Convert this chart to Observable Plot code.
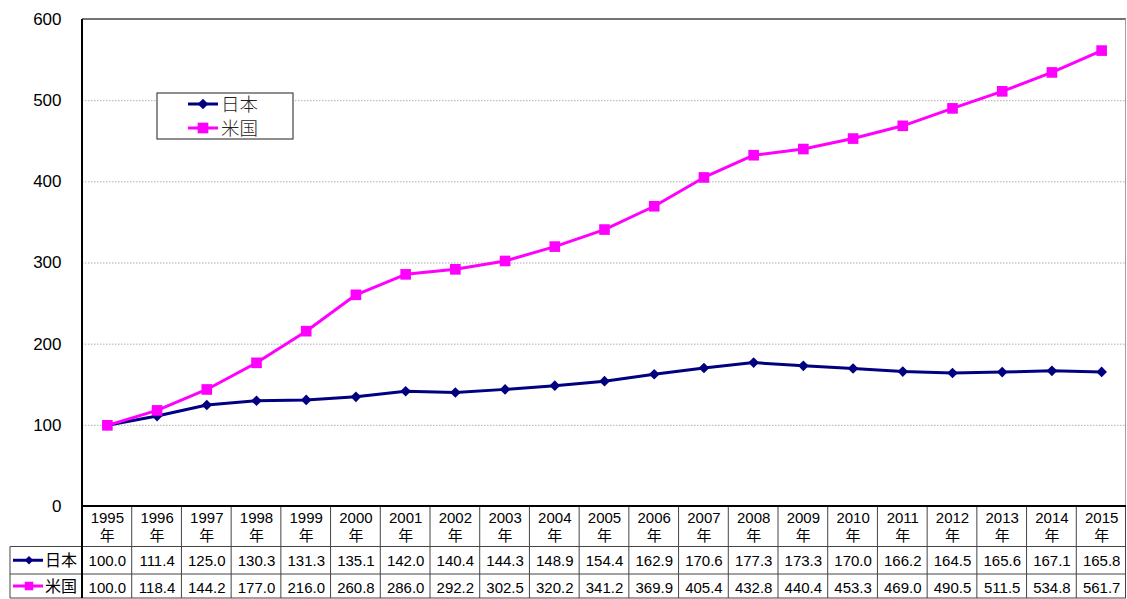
<!DOCTYPE html>
<html><head><meta charset="utf-8">
<script src="https://cdn.jsdelivr.net/npm/d3@7"></script>
<script src="https://cdn.jsdelivr.net/npm/@observablehq/plot@0.6"></script>
<style>html,body{margin:0;padding:0;background:#fff;overflow:hidden}#chart svg{display:block}</style>
</head><body><div id="chart"></div>
<script>
const years = ["1995","1996","1997","1998","1999","2000","2001","2002","2003","2004","2005","2006","2007","2008","2009","2010","2011","2012","2013","2014","2015"];
const seriesNames = ["日本","米国"];
const japan = [100.0,111.4,125.0,130.3,131.3,135.1,142.0,140.4,144.3,148.9,154.4,162.9,170.6,177.3,173.3,170.0,166.2,164.5,165.6,167.1,165.8];
const usa = [100.0,118.4,144.2,177.0,216.0,260.8,286.0,292.2,302.5,320.2,341.2,369.9,405.4,432.8,440.4,453.3,469.0,490.5,511.5,534.8,561.7];
const yTicks = [0,100,200,300,400,500,600];
const gridTicks = [100,200,300,400,500];
const colors = ["#000080","#FF00FF"];
const yearSuffix = "年";

const jpData = japan.map((v,i)=>({year:years[i], value:v, series:seriesNames[0]}));
const usData = usa.map((v,i)=>({year:years[i], value:v, series:seriesNames[1]}));
const data = jpData.concat(usData);

const font = "'Liberation Sans', Arial, 'Noto Sans CJK JP', sans-serif";

const plot = Plot.plot({
  width: 1127, height: 599,
  marginLeft: 82, marginRight: 1, marginTop: 19, marginBottom: 93,
  style: {fontFamily: font, fontSize: "15px", background: "white", color: "#000", overflow: "visible"},
  x: {type: "band", domain: years, padding: 0, round: false, axis: null},
  y: {domain: [0, 600]},
  color: {domain: seriesNames, range: colors},
  marks: [
    Plot.ruleY(gridTicks, {stroke: "#9a9a9a", strokeWidth: 0.8, strokeDasharray: "1.5,1.5"}),
    Plot.axisY({ticks: yTicks, tickSize: 0, tickPadding: 21, fontSize: 17, label: null, fill: "#000"}),
    Plot.line(data, {x: "year", y: "value", stroke: "series", strokeWidth: 3}),
    Plot.dot(jpData, {x: "year", y: "value", symbol: "diamond2", r: 4.8, fill: colors[0], stroke: "none"}),
    Plot.dot(usData, {x: "year", y: "value", symbol: "square", r: 6, fill: colors[1], stroke: "none"}),
    Plot.text(years, {x: d => d, text: d => d, frameAnchor: "bottom", lineAnchor: "middle", dy: 12, fontSize: 15, fill: "#000"}),
    Plot.text(years, {x: d => d, text: () => yearSuffix, frameAnchor: "bottom", lineAnchor: "middle", dy: 29.5, fontSize: 15, fill: "#000"}),
    Plot.text(jpData, {x: "year", text: d => d.value.toFixed(1), frameAnchor: "bottom", lineAnchor: "middle", dy: 55, fontSize: 15, fill: "#000"}),
    Plot.text(usData, {x: "year", text: d => d.value.toFixed(1), frameAnchor: "bottom", lineAnchor: "middle", dy: 81.5, fontSize: 15, fill: "#000"})
  ]
});

const svg = d3.select(plot);
const xs = plot.scale("x");
const ys = plot.scale("y");
const bw = xs.bandwidth;
const x0 = xs.apply(years[0]);
const x1 = xs.apply(years[years.length-1]) + bw;
const yTop = ys.apply(600);
const yBot = ys.apply(0);
const rowA = yBot + 40.5, rowB = yBot + 68, rowC = yBot + 92;
const tableLeft = 10;
const g = svg.append("g").attr("fill", "none");
function line(xa, ya, xb, yb, stroke, w) {
  g.append("line").attr("x1", xa).attr("y1", ya).attr("x2", xb).attr("y2", yb).attr("stroke", stroke).attr("stroke-width", w);
}
// plot frame
line(x0, yTop, x1, yTop, "#444", 1.5);
line(x1 - 0.5, yTop, x1 - 0.5, yBot, "#a0a0a0", 1);
// table grid
years.forEach(yr => { const e = xs.apply(yr); if (e > x0 + 1) line(e, yBot, e, rowC, "#444", 1); });
line(x1 - 0.5, yBot, x1 - 0.5, rowC, "#444", 1);
line(tableLeft, rowA, x1, rowA, "#444", 1);
line(tableLeft, rowB, x1, rowB, "#444", 1);
line(tableLeft, rowC, x1, rowC, "#444", 1);
line(tableLeft, rowA, tableLeft, rowC, "#444", 1);
line(x0, yTop, x0, rowC, "#000", 2);
line(x0, yBot, x1, yBot, "#000", 2);

const symDiamond = d3.symbol(d3.symbolDiamond2, Math.PI * 4.8 * 4.8)();
const symSquare = d3.symbol(d3.symbolSquare, Math.PI * 6 * 6)();
const syms = [symDiamond, symSquare];

// row labels in table
[ (rowA + rowB) / 2, (rowB + rowC) / 2 ].forEach((cy, i) => {
  line(13, cy, 43, cy, colors[i], 3);
  svg.append("path").attr("d", syms[i]).attr("transform", `translate(29,${cy}) scale(0.8)`).attr("fill", colors[i]);
  svg.append("text").attr("x", 45).attr("y", cy).attr("dy", "0.36em").attr("font-size", 16).attr("text-anchor", "start")
    .attr("font-family", "'Noto Sans CJK JP', sans-serif").attr("fill", "#000").text(seriesNames[i]);
});

// legend
const lg = svg.append("g");
lg.append("rect").attr("x", 157).attr("y", 93).attr("width", 136).attr("height", 46)
  .attr("fill", "white").attr("stroke", "#444").attr("stroke-width", 1.2);
[104, 128].forEach((cy, i) => {
  lg.append("line").attr("x1", 188).attr("x2", 218).attr("y1", cy).attr("y2", cy).attr("stroke", colors[i]).attr("stroke-width", 3);
  lg.append("path").attr("d", syms[i]).attr("transform", `translate(203,${cy})`).attr("fill", colors[i]);
  lg.append("text").attr("x", 221).attr("y", cy).attr("dy", "0.36em").attr("font-size", 18.5).attr("text-anchor", "start")
    .attr("font-family", "'Noto Sans CJK JP', sans-serif").attr("font-weight", 300).attr("fill", "#222").text(seriesNames[i]);
});

document.getElementById("chart").appendChild(plot);
</script>
</body></html>
